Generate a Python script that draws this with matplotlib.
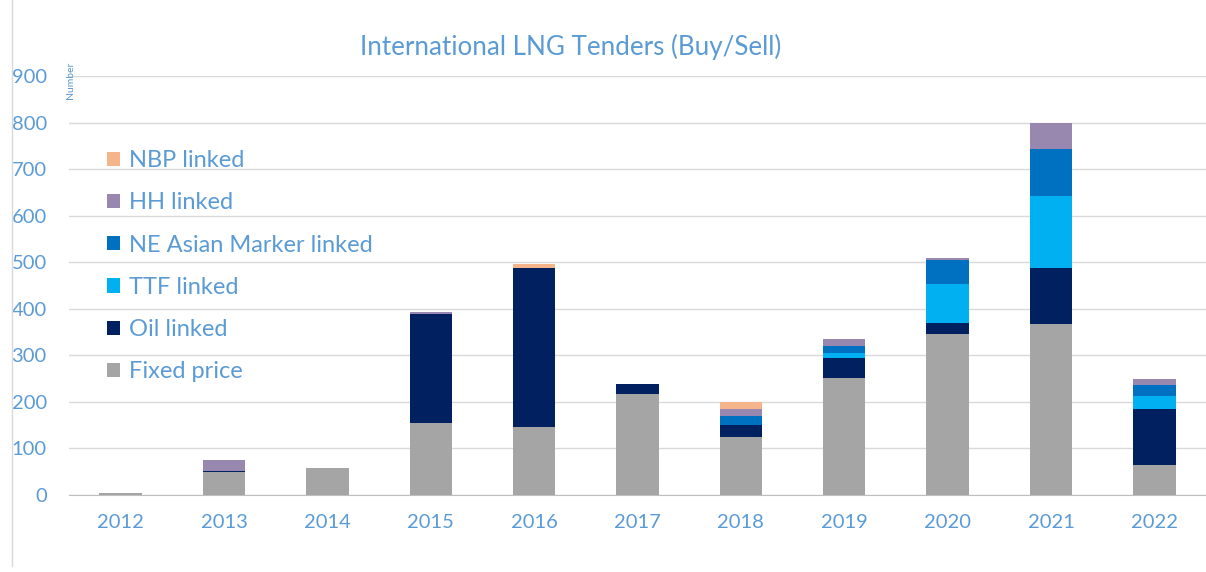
import matplotlib
matplotlib.use("Agg")
import matplotlib.pyplot as plt
from matplotlib.patches import Patch
from matplotlib.lines import Line2D
import numpy as np

years = ["2012", "2013", "2014", "2015", "2016", "2017", "2018", "2019", "2020", "2021", "2022"]
fixed_price = [4, 49, 57, 155, 145, 218, 124, 252, 345, 367, 65]
oil_linked = [0, 3, 0, 233, 342, 21, 26, 43, 25, 121, 120]
ttf_linked = [0, 0, 0, 0, 0, 0, 0, 11, 83, 155, 28]
ne_asian_linked = [0, 0, 0, 0, 0, 0, 20, 13, 51, 100, 24]
hh_linked = [0, 23, 0, 5, 0, 0, 15, 16, 6, 56, 13]
nbp_linked = [0, 0, 0, 0, 9, 0, 15, 0, 0, 0, 0]
yticks = [0, 100, 200, 300, 400, 500, 600, 700, 800, 900]

series = [
    ("Fixed price", fixed_price, "#A5A5A5"),
    ("Oil linked", oil_linked, "#002060"),
    ("TTF linked", ttf_linked, "#00B0F0"),
    ("NE Asian Marker linked", ne_asian_linked, "#0070C0"),
    ("HH linked", hh_linked, "#9888AF"),
    ("NBP linked", nbp_linked, "#F6B48A"),
]

txt = "#5B9BD5"
plt.rcParams['font.family'] = ['Lato', 'DejaVu Sans']

fig = plt.figure(figsize=(12.06, 5.72), dpi=100)
ax = fig.add_axes([69/1206, 77/572, 1 - 69/1206, 419/572])

x = np.arange(len(years))
bottom = np.zeros(len(years))
handles = []
for name, vals, col in series:
    v = np.array(vals, dtype=float)
    ax.bar(x, v, 0.41, bottom=bottom, color=col, edgecolor="none", zorder=3)
    bottom += v
    handles.append(Patch(facecolor=col, edgecolor="none", label=name))

ax.set_xlim(-0.5, 10.5)
ax.set_ylim(0, 900)
ax.set_yticks(yticks)
ax.set_xticks(x)
ax.set_xticklabels(years)
ax.yaxis.grid(True, color="#D9D9D9", linewidth=1.0, zorder=0)
ax.set_axisbelow(True)
for s in ["top", "right", "left"]:
    ax.spines[s].set_visible(False)
ax.spines["bottom"].set_color("#BFBFBF")
ax.tick_params(axis="both", length=0, colors=txt, labelsize=14.5)
ax.tick_params(axis="y", pad=16)
ax.tick_params(axis="x", pad=14)

fig.text(571/1206, 1 - 47/572, "International LNG Tenders (Buy/Sell)", ha="center", va="center",
         fontsize=18.7, color=txt)
fig.text(70/1206, 1 - 80/572, "Number", rotation=90, ha="center", va="center", fontsize=7.5, color=txt)

leg = ax.legend(handles[::-1], [h.get_label() for h in handles[::-1]],
                loc="upper left", bbox_to_anchor=(107/1206, 1 - 150/572),
                bbox_transform=fig.transFigure, frameon=False, fontsize=17,
                handlelength=0.55, handleheight=0.55, handletextpad=0.4,
                labelspacing=0.9, borderpad=0, borderaxespad=0)
for t in leg.get_texts():
    t.set_color(txt)

fig.add_artist(Line2D([12/1206, 12/1206], [0.01, 1.0], color="#D9D9D9", linewidth=1))

fig.savefig("out.png", dpi=100, facecolor="white")
